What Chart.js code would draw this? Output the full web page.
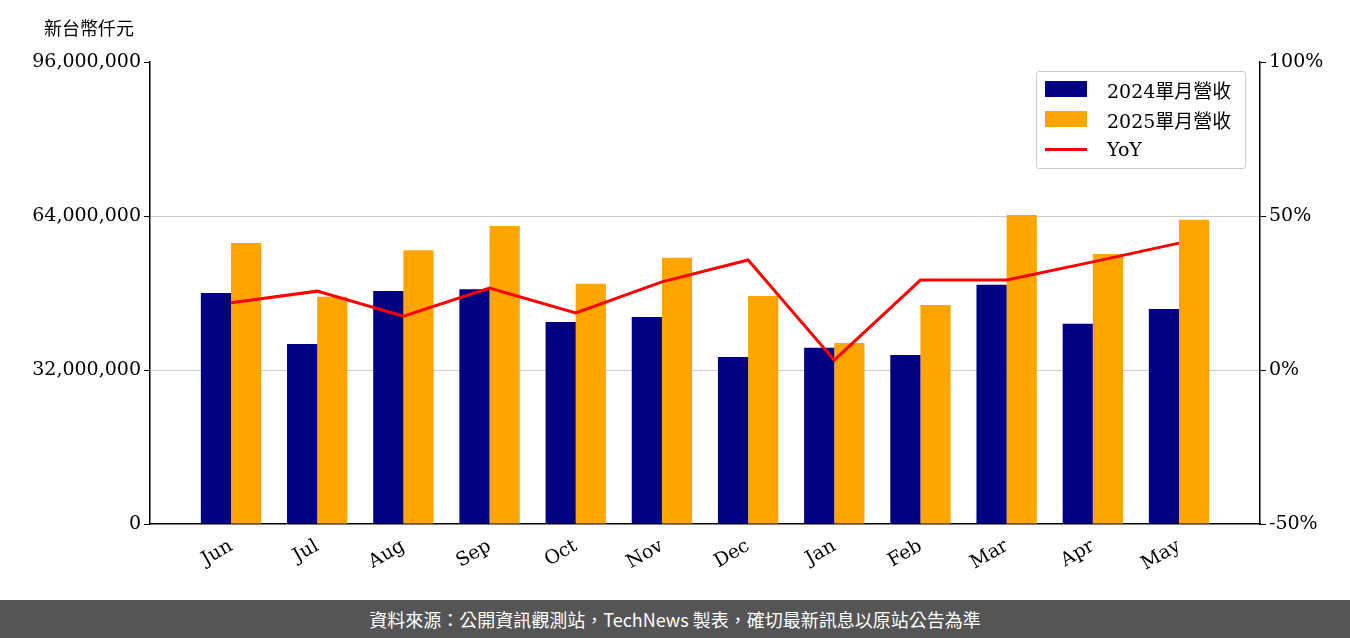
<!DOCTYPE html>
<html><head><meta charset="utf-8">
<script src="https://cdn.jsdelivr.net/npm/chart.js@4"></script>
<style>
body{margin:0;width:1350px;height:638px;background:#fff;position:relative;overflow:hidden;font-family:"DejaVu Serif","Noto Sans CJK TC",serif}
#wrap{position:absolute;left:0;top:0;width:1350px;height:600px}
#unit{position:absolute;left:44px;top:14px;font-size:18px;font-family:"Noto Sans CJK TC";color:#000}
#foot{position:absolute;left:0;top:600px;width:1350px;height:38px;background:#555;color:#fff;font-family:"Noto Sans CJK TC";font-size:18px;text-align:center;line-height:38px}
#legend{position:absolute;left:1036px;top:71px;width:208px;height:96px;border:1px solid #ccc;border-radius:3px;background:rgba(255,255,255,0.8);font-size:19px}
.it{position:absolute;left:8px;height:22px;display:flex;align-items:center}
.sw{width:42px;height:16px;margin-right:20px}
</style></head><body>
<div id="wrap"><canvas id="c"></canvas></div>
<div id="unit">新台幣仟元</div>
<div id="legend">
<div class="it" style="top:6px"><div class="sw" style="background:#000080"></div>2024單月營收</div>
<div class="it" style="top:36px"><div class="sw" style="background:#ffa500"></div>2025單月營收</div>
<div class="it" style="top:66px"><div class="sw" style="height:3px;background:#ff0000"></div>YoY</div>
</div>
<div id="foot">資料來源：公開資訊觀測站，TechNews 製表，確切最新訊息以原站公告為準</div>
<script>
const months = ['Jun','Jul','Aug','Sep','Oct','Nov','Dec','Jan','Feb','Mar','Apr','May'];
const rev2024 = [48.0,37.4,48.4,48.8,42.0,43.0,34.7,36.6,35.1,49.7,41.6,44.7].map(v=>v*1e6);
const rev2025 = [58.4,47.2,56.9,61.9,49.9,55.3,47.4,37.6,45.5,64.2,56.1,63.2].map(v=>v*1e6);
const yoy = [21.8,25.6,17.5,26.6,18.5,28.6,35.7,3.2,29.2,29.2,35.1,41.2];
const leftTicks = [0,32000000,64000000,96000000];
const rightTicks = [-50,0,50,100];

const pts = arr => arr.map((v,i)=>({x:i,y:v}));
const tickFont = {family:'DejaVu Serif', size:19};
new Chart(document.getElementById('c'), {
  type:'bar',
  data:{datasets:[
    {type:'line', label:'YoY', data:pts(yoy), yAxisID:'y2', borderColor:'#ff0000', borderWidth:3, pointRadius:0, tension:0, order:0},
    {label:'2024單月營收', data:pts(rev2024), backgroundColor:'#000080', yAxisID:'y', order:1, barPercentage:1, categoryPercentage:0.7},
    {label:'2025單月營收', data:pts(rev2025), backgroundColor:'#ffa500', yAxisID:'y', order:1, barPercentage:1, categoryPercentage:0.7}
  ]},
  options:{
    responsive:true, maintainAspectRatio:false, animation:false,
    layout:{padding:{top:62,bottom:0}},
    plugins:{legend:{display:false}, tooltip:{enabled:false}},
    scales:{
      x:{type:'linear', min:-0.94, max:11.94, offset:false, grid:{display:false}, border:{color:'#000',width:1.5},
         afterBuildTicks(s){s.ticks=months.map((m,i)=>({value:i}));},
         ticks:{font:tickFont,color:'#000',maxRotation:30,minRotation:30,callback:v=>months[v]},
         afterFit(s){s.height=76;}},
      y:{min:0,max:96000000, border:{color:'#000',width:1.5},
         afterBuildTicks(s){s.ticks=leftTicks.map(v=>({value:v}));},
         ticks:{font:tickFont,color:'#000',callback:v=>v.toLocaleString('en-US')},
         grid:{color:c=>(c.tick.value===0||c.tick.value===96000000)?'rgba(0,0,0,0)':'#ccc', tickColor:'#000', tickLength:6},
         afterFit(s){s.width=150;}},
      y2:{position:'right',min:-50,max:100, border:{color:'#000',width:1.5},
         afterBuildTicks(s){s.ticks=rightTicks.map(v=>({value:v}));},
         ticks:{font:tickFont,color:'#000',callback:v=>v+'%'},
         grid:{drawOnChartArea:false, tickColor:'#000', tickLength:6},
         afterFit(s){s.width=90;}}
    }
  }
});
</script>
</body></html>
